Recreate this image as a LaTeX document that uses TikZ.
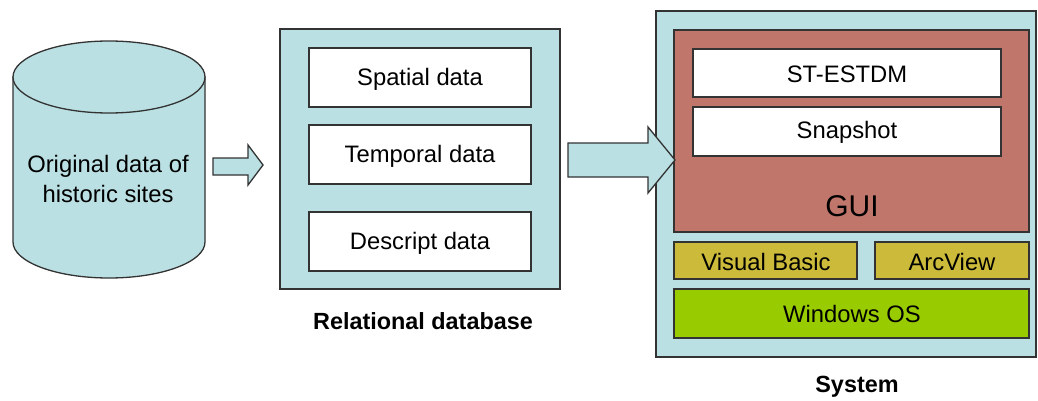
\documentclass[tikz,border=0pt]{standalone}
\usepackage{fontspec}
\setmainfont{Liberation Sans}
\definecolor{lblue}{HTML}{BBE0E3}
\definecolor{guired}{HTML}{C0766A}
\definecolor{vbyel}{HTML}{CCBB3A}
\definecolor{osgreen}{HTML}{99CC00}
\definecolor{edge}{HTML}{333333}
\tikzset{
  ln/.style={draw=edge, line width=1.3pt},
  whitebox/.style={ln, fill=white},
  txt/.style={font=\fontsize{23.8}{30}\selectfont, align=center, inner sep=0pt},
  captiontxt/.style={font=\bfseries\fontsize{23.4}{29}\selectfont, inner sep=0pt},
}
\begin{document}
\begin{tikzpicture}[x=1pt,y=-1pt]
\useasboundingbox (0,0) rectangle (1038,401);
% cylinder
\path[ln, fill=lblue] (13,77) -- (13,242) arc[start angle=180, end angle=0, x radius=96, y radius=36] -- (205,77) -- cycle;
\path[ln, fill=lblue] (109,77) ellipse[x radius=96, y radius=36];
\node[txt] (orig) at (108,179) {Original data of\\historic sites};
% arrow 1
\path[ln, fill=lblue] (213,158) -- (248,158) -- (248,145) -- (263,165) -- (248,185) -- (248,175) -- (213,175) -- cycle;
% relational database
\draw[ln, fill=lblue] (280,29) rectangle (560,289);
\draw[whitebox] (309,48) rectangle (531,107);
\node[txt] (spatial) at (420,79) {Spatial data};
\draw[whitebox] (309,125) rectangle (531,184);
\node[txt] (temporal) at (420,156) {Temporal data};
\draw[whitebox] (309,212) rectangle (531,271);
\node[txt] (descript) at (420,243) {Descript data};
\node[captiontxt] (reldb) at (423,321) {Relational database};
% system
\draw[ln, fill=lblue] (656,11) rectangle (1036,357);
\draw[ln, fill=guired] (674,30) rectangle (1029,232);
\draw[whitebox] (693,49) rectangle (1001,97);
\node[txt] (st) at (847,74) {ST-ESTDM};
\draw[whitebox] (693,107) rectangle (1001,156);
\node[txt] (snap) at (847,132) {Snapshot};
\node[txt, font=\fontsize{30}{34}\selectfont] (gui) at (852,206) {GUI};
\draw[ln, fill=vbyel] (674,242) rectangle (857,279);
\node[txt] (vb) at (766,262) {Visual Basic};
\draw[ln, fill=vbyel] (875,242) rectangle (1029,279);
\node[txt] (arc) at (952,262) {ArcView};
\draw[ln, fill=osgreen] (674,289) rectangle (1029,338);
\node[txt] (win) at (852,314) {Windows OS};
\node[captiontxt] (system) at (857,387) {System};
% arrow 2
\path[ln, fill=lblue] (568,143) -- (648,143) -- (648,127) -- (675,160) -- (648,193) -- (648,177) -- (568,177) -- cycle;
\end{tikzpicture}
\end{document}
